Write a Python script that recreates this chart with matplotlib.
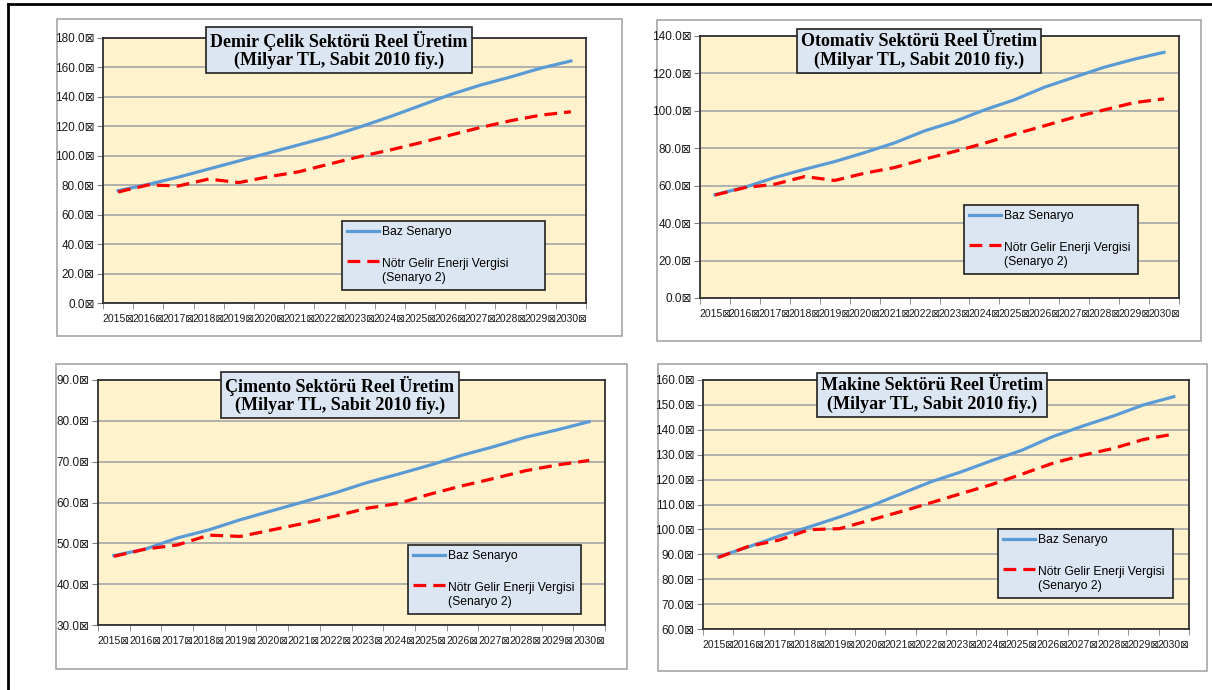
import matplotlib
matplotlib.use("Agg")
import matplotlib.pyplot as plt
from matplotlib.lines import Line2D
from matplotlib.patches import Rectangle
from matplotlib.legend_handler import HandlerLine2D

plt.rcParams['font.family'] = ['Liberation Sans', 'DejaVu Sans']

W, H = 1212, 690

years = ['2015', '2016', '2017', '2018', '2019', '2020', '2021', '2022',
         '2023', '2024', '2025', '2026', '2027', '2028', '2029', '2030']

demir_baz = [76.3, 80.6, 85.5, 91.0, 96.5, 102.0, 107.5, 113.0,
             119.5, 126.5, 134.0, 141.5, 148.0, 153.5, 159.5, 164.4]
demir_s2 = [75.4, 80.2, 79.5, 84.2, 81.8, 85.8, 89.2, 94.4,
            99.4, 103.9, 108.8, 114.0, 119.2, 123.8, 127.6, 129.9]

oto_baz = [55.2, 59.2, 64.4, 68.8, 72.9, 77.7, 82.9, 89.3,
           94.3, 100.5, 105.9, 112.6, 118.0, 123.3, 127.6, 131.3]
oto_s2 = [55.0, 59.0, 60.8, 64.9, 62.8, 66.7, 69.7, 74.2,
          78.3, 82.7, 87.5, 92.0, 96.6, 100.5, 104.4, 106.4]

cim_baz = [47.0, 48.6, 51.3, 53.3, 55.8, 58.0, 60.2, 62.4,
           64.9, 67.0, 69.2, 71.6, 73.7, 76.0, 77.8, 79.8]
cim_s2 = [46.8, 48.6, 49.6, 52.0, 51.7, 53.3, 54.9, 56.7,
          58.6, 59.8, 62.1, 64.1, 65.9, 67.8, 69.2, 70.3]

mak_baz = [89.0, 93.0, 97.3, 101.0, 105.0, 109.3, 114.2, 119.1,
           123.1, 127.6, 131.8, 137.2, 141.5, 145.5, 150.0, 153.3]
mak_s2 = [88.7, 93.2, 95.7, 99.9, 100.3, 103.7, 107.1, 110.7,
          114.4, 118.0, 122.2, 126.5, 129.8, 132.5, 136.1, 138.3]

titles = ['Demir Çelik Sektörü Reel Üretim\n(Milyar TL, Sabit 2010 fiy.)',
          'Otomativ Sektörü Reel Üretim\n(Milyar TL, Sabit 2010 fiy.)',
          'Çimento Sektörü Reel Üretim\n(Milyar TL, Sabit 2010 fiy.)',
          'Makine Sektörü Reel Üretim\n(Milyar TL, Sabit 2010 fiy.)']
label_baz = 'Baz Senaryo'
label_s2 = 'Nötr Gelir Enerji Vergisi\n(Senaryo 2)'

BG = '#FFF2CC'
BOX = '#DCE6F2'
BLUE = '#5B9BD5'
RED = '#FF0000'


def frac(x0, y0, x1, y1):
    # pixel box (top-left origin) -> figure fraction [left, bottom, w, h]
    return [x0 / W, 1 - y1 / H, (x1 - x0) / W, (y1 - y0) / H]


class HandlerTopLine(HandlerLine2D):
    # put the legend line next to the first line of a two-line label
    def create_artists(self, legend, orig_handle, xdescent, ydescent,
                       width, height, fontsize, trans):
        arts = super().create_artists(legend, orig_handle, xdescent, ydescent,
                                      width, height, fontsize, trans)
        for a in arts:
            a.set_ydata([y + 0.85 * fontsize for y in a.get_ydata()])
        return arts


fig = plt.figure(figsize=(W / 100, H / 100), dpi=100)

# outer frame (top and left edges only visible)
fig.add_artist(Line2D([8 / W, 8 / W], [0, 1 - 4 / H], color='black', lw=2,
                      transform=fig.transFigure))
fig.add_artist(Line2D([8 / W, 1], [1 - 4 / H, 1 - 4 / H], color='black', lw=2,
                      transform=fig.transFigure))

panels = [
    # chart box, plot box, title centre, legend box, data, y range
    dict(outer=(57, 19, 622, 336), plot=(103, 38, 586, 303), title=(339, 50),
         leg=(342, 221, 545, 288), baz=demir_baz, s2=demir_s2, ylim=(0, 180), step=20),
    dict(outer=(657, 20, 1201, 341), plot=(700, 36, 1179, 298), title=(919, 51),
         leg=(964, 205, 1138, 279), baz=oto_baz, s2=oto_s2, ylim=(0, 140), step=20),
    dict(outer=(56, 364, 627, 669), plot=(98, 380, 605, 625), title=(340, 395),
         leg=(408, 545, 581, 618), baz=cim_baz, s2=cim_s2, ylim=(30, 90), step=10),
    dict(outer=(658, 364, 1207, 671), plot=(703, 380, 1189, 629), title=(932, 395),
         leg=(998, 529, 1173, 603), baz=mak_baz, s2=mak_s2, ylim=(60, 160), step=10),
]

for i, p in enumerate(panels):
    ox0, oy0, ox1, oy1 = p['outer']
    fig.add_artist(Rectangle((ox0 / W, 1 - oy1 / H), (ox1 - ox0) / W, (oy1 - oy0) / H,
                             transform=fig.transFigure, facecolor='white',
                             edgecolor='#A6A6A6', lw=1.2, zorder=-1))

    ax = fig.add_axes(frac(*p['plot']))
    ax.set_facecolor(BG)
    x = list(range(len(years)))
    l1, = ax.plot(x, p['baz'], color=BLUE, lw=2.3, label=label_baz, zorder=3)
    l2, = ax.plot(x, p['s2'], color=RED, lw=2.3, ls=(0, (4, 2.2)), label=label_s2, zorder=3)

    ax.set_xlim(-0.5, len(years) - 0.5)
    lo, hi = p['ylim']
    ax.set_ylim(lo, hi)
    yt = list(range(lo, hi + 1, p['step']))
    ax.set_yticks(yt)
    ax.set_yticklabels([f'{v:.1f}⊠' for v in yt], fontsize=8.5, color='#1A1A1A')
    ax.yaxis.grid(True, color='#A6A6A6', lw=1.2)
    ax.set_axisbelow(True)

    ax.set_xticks(x)
    ax.set_xticklabels([y + '⊠' for y in years], fontsize=7.5, color='#1A1A1A')
    ax.set_xticks([v - 0.5 for v in range(len(years) + 1)], minor=True)
    ax.tick_params(axis='x', which='major', length=0, pad=8)
    ax.tick_params(axis='x', which='minor', length=4, color='#808080', direction='out')
    ax.tick_params(axis='y', length=4, color='#808080', direction='out', pad=2)
    for s in ax.spines.values():
        s.set_color('#303030')
        s.set_linewidth(1.3)

    tx, ty = p['title']
    fig.text(tx / W, 1 - ty / H, titles[i], ha='center', va='center',
             fontsize=13, fontweight='bold', family='Liberation Serif',
             linespacing=1.1, zorder=5,
             bbox=dict(boxstyle='square,pad=0.22', facecolor=BOX,
                       edgecolor='#202020', lw=1.2))

    lx0, ly0, lx1, ly1 = p['leg']
    leg = ax.legend(handles=[l1, l2], loc='upper left', mode='expand',
                    bbox_to_anchor=(lx0 / W, 1 - ly0 / H, (lx1 - lx0) / W, 0),
                    bbox_transform=fig.transFigure, fontsize=8.7,
                    frameon=True, fancybox=False, framealpha=1,
                    facecolor=BOX, edgecolor='#202020', borderpad=0.45,
                    labelspacing=1.65, handlelength=2.6, handletextpad=0.3,
                    borderaxespad=0, handler_map={l2: HandlerTopLine()})
    leg.get_frame().set_linewidth(1.2)
    leg.set_zorder(6)

fig.savefig('out.png', dpi=100)
